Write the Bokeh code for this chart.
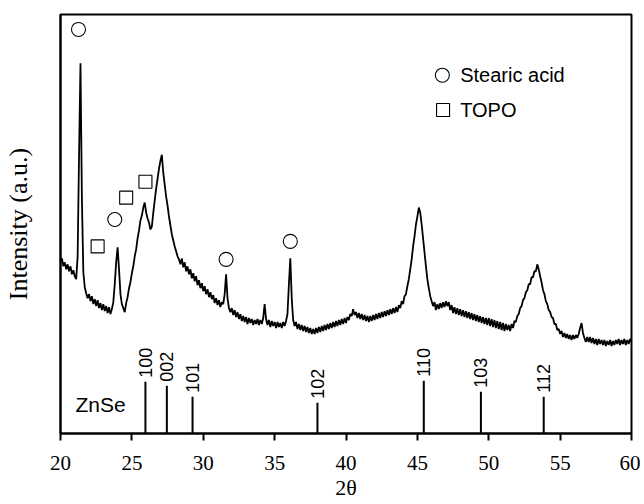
from bokeh.plotting import figure
from bokeh.models import Range1d, FixedTicker, ColumnDataSource
from bokeh.core.properties import value
from bokeh.embed import file_html
from bokeh.resources import INLINE

# XRD pattern: 2theta sampled every 0.1 degree from 20.0 to 60.0, intensity in a.u.
two_theta = [round(20 + 0.1 * i, 1) for i in range(401)]
intensity = [
    173, 176, 168, 172, 165, 170, 163, 168, 160, 164,  # 20.x
    158, 155, 178, 280, 372, 235, 162, 147, 141, 136,  # 21.x
    140, 133, 138, 130, 135, 128, 134, 126, 131, 124,  # 22.x
    130, 123, 128, 121, 127, 120, 125, 132, 150, 172,  # 23.x
    187, 165, 140, 130, 126, 122, 131, 137, 146, 152,  # 24.x
    161, 168, 178, 185, 196, 204, 214, 219, 227, 232,  # 25.x
    222, 216, 212, 205, 208, 222, 234, 246, 256, 266,  # 26.x
    274, 280, 262, 250, 238, 229, 218, 209, 200, 194,  # 27.x
    188, 183, 178, 175, 170, 176, 167, 172, 163, 168,  # 28.x
    160, 165, 156, 161, 153, 158, 149, 154, 146, 151,  # 29.x
    143, 148, 140, 145, 137, 142, 135, 139, 131, 136,  # 30.x
    129, 134, 127, 132, 130, 140, 160, 136, 126, 122,  # 31.x
    126, 119, 124, 117, 122, 115, 120, 113, 118, 112,  # 32.x
    117, 110, 116, 111, 115, 109, 114, 110, 115, 109,  # 33.x
    114, 110, 116, 130, 115, 109, 114, 107, 113, 108,  # 34.x
    112, 106, 112, 107, 111, 106, 112, 108, 113, 120,  # 35.x
    150, 176, 135, 114, 108, 112, 105, 110, 104, 109,  # 36.x
    103, 108, 102, 107, 101, 106, 100, 105, 100, 106,  # 37.x
    101, 107, 102, 108, 103, 109, 104, 110, 105, 111,  # 38.x
    106, 112, 107, 113, 108, 114, 109, 115, 110, 116,  # 39.x
    111, 117, 114, 120, 118, 125, 119, 122, 116, 121,  # 40.x
    115, 120, 114, 119, 113, 118, 112, 118, 113, 119,  # 41.x
    114, 120, 115, 121, 116, 122, 117, 123, 118, 124,  # 42.x
    119, 125, 120, 126, 121, 127, 122, 129, 126, 133,  # 43.x
    130, 138, 140, 148, 155, 165, 175, 188, 198, 210,  # 44.x
    218, 227, 222, 210, 196, 182, 168, 155, 146, 138,  # 45.x
    133, 128, 132, 124, 130, 125, 131, 126, 132, 127,  # 46.x
    133, 128, 132, 124, 129, 121, 127, 120, 126, 119,  # 47.x
    125, 118, 124, 117, 123, 116, 122, 115, 121, 114,  # 48.x
    120, 113, 119, 112, 118, 111, 117, 110, 116, 109,  # 49.x
    116, 108, 115, 107, 114, 106, 113, 105, 112, 104,  # 50.x
    111, 103, 110, 104, 109, 103, 110, 106, 113, 112,  # 51.x
    118, 120, 126, 128, 134, 136, 142, 144, 150, 150,  # 52.x
    157, 157, 163, 163, 170, 165, 158, 152, 144, 140,  # 53.x
    133, 130, 124, 122, 117, 116, 110, 110, 104, 105,  # 54.x
    100, 103, 97, 101, 96, 100, 95, 99, 94, 99,        # 55.x
    95, 99, 96, 100, 106, 111, 101, 96, 92, 97,        # 56.x
    92, 97, 91, 96, 90, 95, 89, 95, 90, 94,            # 57.x
    89, 94, 88, 93, 89, 94, 88, 93, 89, 94,            # 58.x
    90, 95, 89, 94, 90, 95, 89, 94, 90, 95,            # 59.x
    92,                                                # 60.0
]

# Peak markers
stearic_x = [21.26, 23.8, 31.6, 36.1]
stearic_y = [406, 215, 175, 193]
topo_x = [22.6, 24.6, 25.95]
topo_y = [188, 237, 253]

# ZnSe reference sticks
znse_pos = [25.95, 27.45, 29.25, 38.0, 45.45, 49.45, 53.85]
znse_h = [52, 48, 37, 31, 53, 42, 37]
znse_hkl = ["100", "002", "101", "102", "110", "103", "112"]

x_ticks = [20, 25, 30, 35, 40, 45, 50, 55, 60]

p = figure(width=640, height=502, output_backend="svg", toolbar_location=None,
           x_range=Range1d(20, 60), y_range=Range1d(0, 421),
           min_border_left=60, min_border_right=9, min_border_top=14, min_border_bottom=67)
p.grid.visible = False
p.background_fill_color = "white"
p.border_fill_color = "white"
p.outline_line_color = "black"
p.outline_line_width = 2

# X axis
p.xaxis.ticker = FixedTicker(ticks=x_ticks)
p.xaxis.minor_tick_line_color = None
p.xaxis.major_tick_in = 0
p.xaxis.major_tick_out = 7
p.xaxis.major_tick_line_width = 2
p.xaxis.major_tick_line_color = "black"
p.xaxis.axis_line_width = 2
p.xaxis.axis_line_color = "black"
p.xaxis.major_label_text_font = "Liberation Serif"
p.xaxis.major_label_text_font_size = "21px"
p.xaxis.major_label_text_color = "black"
p.xaxis.major_label_standoff = 15
p.xaxis.axis_label = "2θ"
p.xaxis.axis_label_text_font = "Liberation Serif"
p.xaxis.axis_label_text_font_size = "22px"
p.xaxis.axis_label_text_font_style = "normal"
p.xaxis.axis_label_text_color = "black"
p.xaxis.axis_label_standoff = 2

# Y axis (no ticks)
p.yaxis.ticker = FixedTicker(ticks=[])
p.yaxis.minor_tick_line_color = None
p.yaxis.major_tick_line_color = None
p.yaxis.axis_line_width = 2
p.yaxis.axis_line_color = "black"
p.yaxis.axis_label = "Intensity (a.u.)"
p.yaxis.axis_label_text_font = "Liberation Serif"
p.yaxis.axis_label_text_font_size = "26px"
p.yaxis.axis_label_text_font_style = "normal"
p.yaxis.axis_label_text_color = "black"
p.yaxis.axis_label_standoff = 28

# Pattern
p.line(two_theta, intensity, line_color="black", line_width=1.8)

# Peak markers
p.scatter(stearic_x, stearic_y, marker="circle", size=14, fill_color=None,
          line_color="black", line_width=1.1)
p.scatter(topo_x, topo_y, marker="square", size=13, fill_color=None,
          line_color="black", line_width=1.1)

# Legend (drawn manually)
p.scatter([46.75], [360], marker="circle", size=14, fill_color=None, line_color="black", line_width=1.1)
p.scatter([46.8], [325], marker="square", size=13, fill_color=None, line_color="black", line_width=1.1)
p.text(x=[48.0, 48.0], y=[360, 325], text=["Stearic acid", "TOPO"],
       text_font=value("Liberation Sans"), text_font_size="20px",
       text_baseline="middle", text_align="left", text_color="black")

# ZnSe sticks
src = ColumnDataSource(dict(x=znse_pos, h=znse_h, lbl=znse_hkl, z=[0] * len(znse_pos)))
p.segment(x0="x", y0="z", x1="x", y1="h", source=src, line_color="black", line_width=2)
p.text(x="x", y="h", text="lbl", source=src, angle=1.5708, y_offset=-4,
       text_font=value("Liberation Sans"), text_font_size="18px",
       text_align="left", text_baseline="middle", text_color="black")
p.text(x=[21.05], y=[29], text=["ZnSe"], text_font=value("Liberation Sans"),
       text_font_size="21px", text_baseline="middle", text_align="left", text_color="black")

open("out.html", "w").write(file_html(p, INLINE))
